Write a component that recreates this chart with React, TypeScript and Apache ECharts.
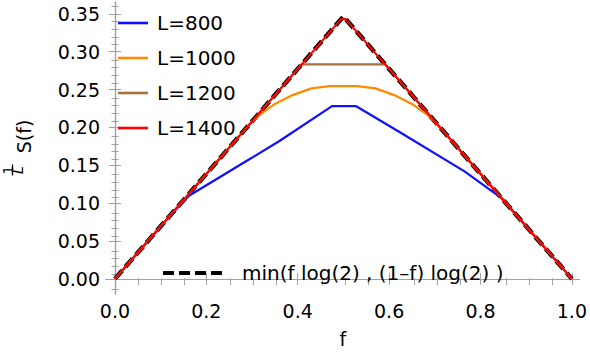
import React, { useEffect, useRef } from "react";
import * as echarts from "echarts";

// ---- data ----
const blueF = [0, 0.12, 0.163, 0.286, 0.36, 0.475, 0.528, 0.62, 0.765, 0.843, 0.88, 1];
const blueS = [0, 0.083, 0.11, 0.155, 0.182, 0.228, 0.228, 0.195, 0.142, 0.108, 0.083, 0];

const orangeF = [0, 0.29, 0.315, 0.35, 0.39, 0.43, 0.47, 0.53, 0.57, 0.61, 0.65, 0.685, 0.71, 1];
const orangeS = [0, 0.201, 0.216, 0.231, 0.243, 0.2515, 0.2545, 0.2545, 0.2515, 0.243, 0.231, 0.216, 0.201, 0];

const brownF = [0, 0.4087, 0.5913, 1];
const brownS = [0, 0.2833, 0.2833, 0];

const redF = [0, 0.495, 0.505, 1];
const redS = [0, 0.343, 0.343, 0];

const boundF = [0, 0.5, 1];
const boundS = [0, 0.3466, 0];

const seriesNames = ["L=800", "L=1000", "L=1200", "L=1400"];
const boundName = "min(f log(2) , (1\u2013f) log(2) )";

const xMajor = [0, 0.2, 0.4, 0.6, 0.8, 1.0];
const xMinor = [0.05, 0.1, 0.15, 0.25, 0.3, 0.35, 0.45, 0.5, 0.55, 0.65, 0.7, 0.75, 0.85, 0.9, 0.95];
const yMajor = [0, 0.05, 0.1, 0.15, 0.2, 0.25, 0.3, 0.35];
const yMinor = [-0.01, 0.01, 0.02, 0.03, 0.04, 0.06, 0.07, 0.08, 0.09, 0.11, 0.12, 0.13, 0.14, 0.16, 0.17, 0.18, 0.19, 0.21, 0.22, 0.23, 0.24, 0.26, 0.27, 0.28, 0.29, 0.31, 0.32, 0.33, 0.34, 0.36];

const zip = (a: number[], b: number[]) => a.map((v, i) => [v, b[i]]);

const FONT = "DejaVu Sans";
const FRAME = "#a0a0a0";
const X_MIN = -0.0196;
const X_MAX = 1.017;
const Y_MIN = -0.02;
const Y_MAX = 0.3656;

const DASH_ICON = "path://M0,0h11v4h-11z M16,0h11v4h-11z M32,0h11v4h-11z M48,0h11v4h-11z";

export default function App() {
  const ref = useRef<HTMLDivElement>(null);
  useEffect(() => {
    if (!ref.current) return;
    const chart = echarts.init(ref.current, undefined, { renderer: "svg" });
    const gridRect = { left: 106, top: 2, width: 477, height: 295, containLabel: false };

    const xAxisBase = (gridIndex: number, position: string, values: number[], len: number, showLine: boolean, showLabel: boolean) => ({
      type: "value",
      gridIndex,
      position,
      min: X_MIN,
      max: X_MAX,
      axisLine: { show: showLine, lineStyle: { color: FRAME, width: 1.2 } },
      axisTick: { show: true, inside: true, length: len, customValues: values, lineStyle: { color: FRAME, width: 1 } },
      axisLabel: {
        show: showLabel,
        customValues: values,
        formatter: (v: number) => v.toFixed(1),
        fontFamily: FONT,
        fontSize: 19,
        color: "#000",
        margin: 7,
      },
      splitLine: { show: false },
      ...(showLabel
        ? {
            name: "f",
            nameLocation: "middle",
            nameGap: 35,
            nameTextStyle: { fontFamily: FONT, fontSize: 19, color: "#000" },
          }
        : {}),
    });
    const yAxisBase = (gridIndex: number, position: string, values: number[], len: number, showLine: boolean, showLabel: boolean) => ({
      type: "value",
      gridIndex,
      position,
      min: Y_MIN,
      max: Y_MAX,
      axisLine: { show: showLine, lineStyle: { color: FRAME, width: 1.2 } },
      axisTick: { show: true, inside: true, length: len, customValues: values, lineStyle: { color: FRAME, width: 1 } },
      axisLabel: {
        show: showLabel,
        customValues: values,
        formatter: (v: number) => v.toFixed(2),
        fontFamily: FONT,
        fontSize: 19,
        color: "#000",
        margin: 6,
      },
      splitLine: { show: false },
    });

    const line = (name: string, f: number[], s: number[], color: string, width: number, z: number, dashed = false) => ({
      type: "line",
      name,
      xAxisIndex: 0,
      yAxisIndex: 0,
      data: zip(f, s),
      symbol: "none",
      showSymbol: false,
      z,
      lineStyle: { color, width, type: dashed ? [11, 5] : "solid", cap: "butt" },
      itemStyle: { color },
    });

    chart.setOption({
      animation: false,
      grid: [gridRect, gridRect],
      xAxis: [
        xAxisBase(0, "bottom", xMajor, 6, true, true),
        xAxisBase(0, "top", xMajor, 6, true, false),
        xAxisBase(1, "bottom", xMinor, 3.5, false, false),
        xAxisBase(1, "top", xMinor, 3.5, false, false),
      ],
      yAxis: [
        yAxisBase(0, "left", yMajor, 6, true, true),
        yAxisBase(0, "right", yMajor, 6, true, false),
        yAxisBase(1, "left", yMinor, 3.5, false, false),
        yAxisBase(1, "right", yMinor, 3.5, false, false),
      ],
      legend: [
        {
          data: seriesNames,
          orient: "vertical",
          left: 118,
          top: 11,
          padding: 0,
          icon: "rect",
          itemWidth: 30,
          itemHeight: 2.6,
          itemGap: 11,
          textStyle: { fontFamily: FONT, fontSize: 20, color: "#000", lineHeight: 24, padding: [0, 0, 0, 4] },
          selectedMode: false,
        },
        {
          data: [boundName],
          left: 163,
          top: 261,
          padding: 0,
          icon: DASH_ICON,
          itemWidth: 59,
          itemHeight: 4.5,
          textStyle: { fontFamily: FONT, fontSize: 20, color: "#000", lineHeight: 24, padding: [0, 0, 0, 15] },
          selectedMode: false,
        },
      ],
      series: [
        line(boundName, boundF, boundS, "#000000", 4.5, 1, true),
        line(seriesNames[0], blueF, blueS, "#1010ff", 2.2, 2),
        line(seriesNames[1], orangeF, orangeS, "#ff8a00", 2.2, 3),
        line(seriesNames[2], brownF, brownS, "#a5713e", 2.2, 4),
        line(seriesNames[3], redF, redS, "#ff0000", 2.2, 5),
      ],
      graphic: [
        {
          type: "text",
          x: 24,
          y: 136.5,
          rotation: Math.PI / 2,
          style: { text: "S(f)", fontFamily: FONT, fontSize: 19, fill: "#000", align: "center", verticalAlign: "middle" },
        },
        {
          type: "text",
          x: 8,
          y: 170,
          rotation: Math.PI / 2,
          style: { text: "1", fontFamily: FONT, fontSize: 14, fill: "#000", align: "center", verticalAlign: "middle" },
        },
        {
          type: "line",
          shape: { x1: 12.5, y1: 164.5, x2: 12.5, y2: 175.5 },
          style: { stroke: "#000", lineWidth: 1.3 },
        },
        {
          type: "text",
          x: 18,
          y: 170,
          rotation: Math.PI / 2,
          style: { text: "L", fontFamily: FONT, fontSize: 14, fontStyle: "italic", fill: "#000", align: "center", verticalAlign: "middle" },
        },
      ],
    });
    return () => chart.dispose();
  }, []);
  return <div ref={ref} style={{ position: "fixed", left: 0, top: 0, width: 590, height: 353, background: "#fff" }} />;
}
